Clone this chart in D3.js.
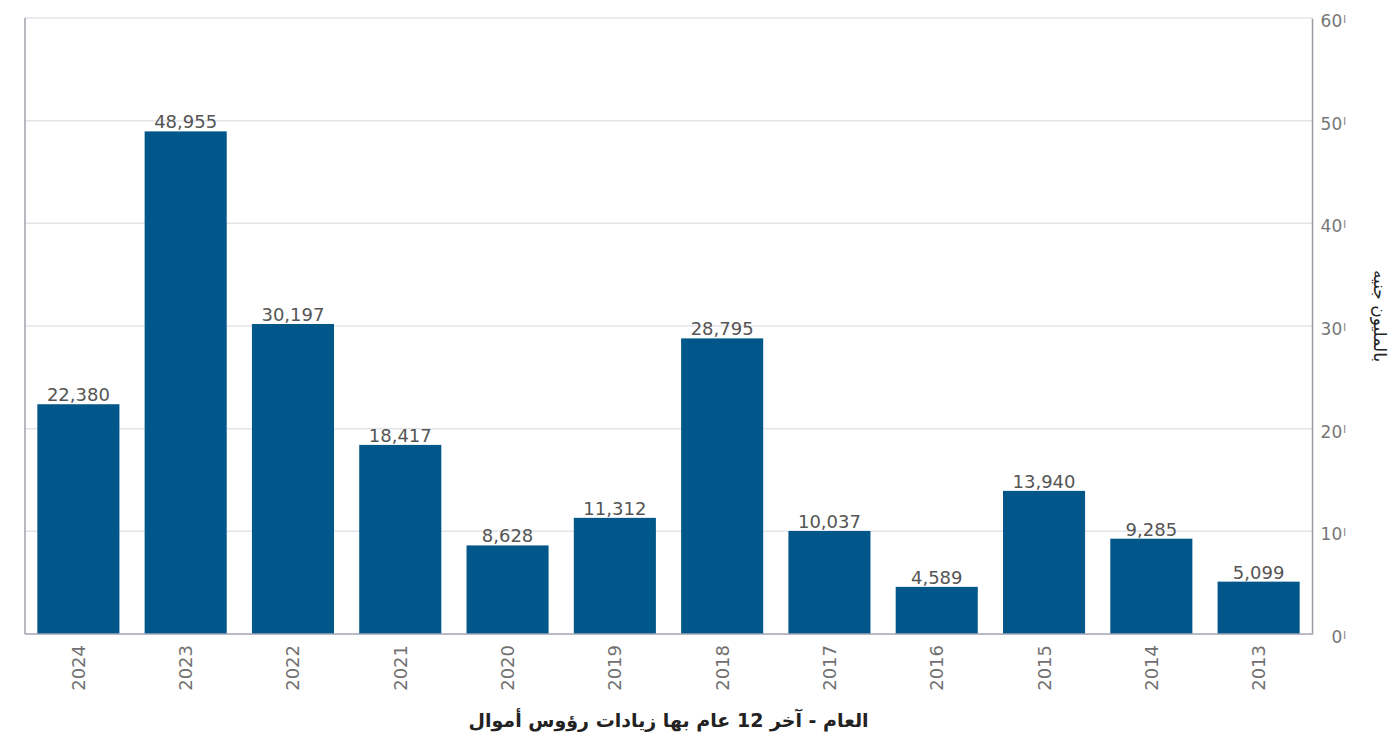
<!DOCTYPE html>
<html><head><meta charset="utf-8">
<script src="https://cdnjs.cloudflare.com/ajax/libs/d3/7.8.5/d3.min.js"></script>
<style>
html,body{margin:0;padding:0;background:#fff;}
svg{display:block;}
</style></head>
<body>
<svg id="chart" width="1394" height="754"></svg>
<script>
const years = ["2024","2023","2022","2021","2020","2019","2018","2017","2016","2015","2014","2013"];
const values = [22380,48955,30197,18417,8628,11312,28795,10037,4589,13940,9285,5099];
const yTicks = [0,10000,20000,30000,40000,50000,60000];
const yTickLabels = ["0","10","20","30","40","50","60"];
const yTickSuffix = "ا";
const xTitle = "العام - آخر 12 عام بها زيادات رؤوس أموال";
const yTitle = "بالمليون جنيه";

const svg = d3.select("#chart");
const m = {left:25, right:1312, top:18, bottom:634};
const x = d3.scaleBand().domain(years).range([m.left, m.right]).paddingInner(0.235).paddingOuter(0.115);
const y = d3.scaleLinear().domain([0,60000]).range([m.bottom, m.top]);
const font = "'DejaVu Sans', Verdana, sans-serif";

// gridlines
svg.append("g").selectAll("line").data(yTicks.filter(d=>d>0)).join("line")
  .attr("x1", m.left).attr("x2", m.right)
  .attr("y1", d=>y(d)).attr("y2", d=>y(d))
  .attr("stroke", "#e4e4ea").attr("stroke-width", 1.5);

// bars
svg.append("g").selectAll("rect").data(values).join("rect")
  .attr("x", (d,i)=>x(years[i])).attr("width", x.bandwidth())
  .attr("y", d=>y(d)).attr("height", d=>y(0)-y(d))
  .attr("fill", "#02578a");

// value labels
svg.append("g").selectAll("text").data(values).join("text")
  .attr("x", (d,i)=>x(years[i]) + x.bandwidth()/2)
  .attr("y", d=>y(d) - 3)
  .attr("text-anchor", "middle")
  .attr("font-family", font).attr("font-size", 18)
  .attr("fill", "#555")
  .text(d=>d3.format(",")(d));

// frame lines
svg.append("line").attr("x1", m.left).attr("x2", m.left).attr("y1", m.top).attr("y2", m.bottom)
  .attr("stroke", "#a0a0a8").attr("stroke-width", 1.5);
svg.append("line").attr("x1", m.left).attr("x2", m.right).attr("y1", m.bottom).attr("y2", m.bottom)
  .attr("stroke", "#a0a4b4").attr("stroke-width", 1.5);

// right axis
const yAxis = d3.axisRight(y).tickValues(yTicks).tickSize(0).tickFormat((d,i)=>yTickLabels[i]);
const ga = svg.append("g").attr("transform", `translate(${m.right},0)`).call(yAxis);
ga.select(".domain").attr("stroke", "#9a9aa2").attr("stroke-width", 1.5);
ga.selectAll("text").attr("font-family", font).attr("font-size", 17).attr("fill", "#777")
  .attr("direction","ltr").attr("text-anchor","end").attr("x", 34).attr("dy", "0.5em")
  .each(function(){
    d3.select(this).append("tspan").attr("font-size", 10).attr("dy", "-0.45em").attr("dx", 1).text(yTickSuffix);
  });

// bottom axis labels
const xAxis = d3.axisBottom(x).tickSize(0);
const gx = svg.append("g").attr("transform", `translate(0,${m.bottom})`).call(xAxis);
gx.select(".domain").remove();
gx.selectAll("text").attr("font-family", font).attr("font-size", 18).attr("fill", "#707070")
  .attr("transform", "rotate(-90)").attr("text-anchor", "end")
  .attr("x", -11).attr("y", 0).attr("dy", "0.36em");

// x title
svg.append("text").attr("x", (m.left+m.right)/2).attr("y", 727)
  .attr("text-anchor", "middle").attr("font-family", font).attr("font-size", 19)
  .attr("font-weight", "bold").attr("fill", "#222").attr("direction","rtl")
  .text(xTitle);

// y title (rotated)
svg.append("text").attr("transform", "translate(1374,316) rotate(90)")
  .attr("text-anchor", "middle").attr("font-family", font).attr("font-size", 17)
  .attr("fill", "#222").attr("direction","rtl")
  .text(yTitle);
</script>
</body></html>
